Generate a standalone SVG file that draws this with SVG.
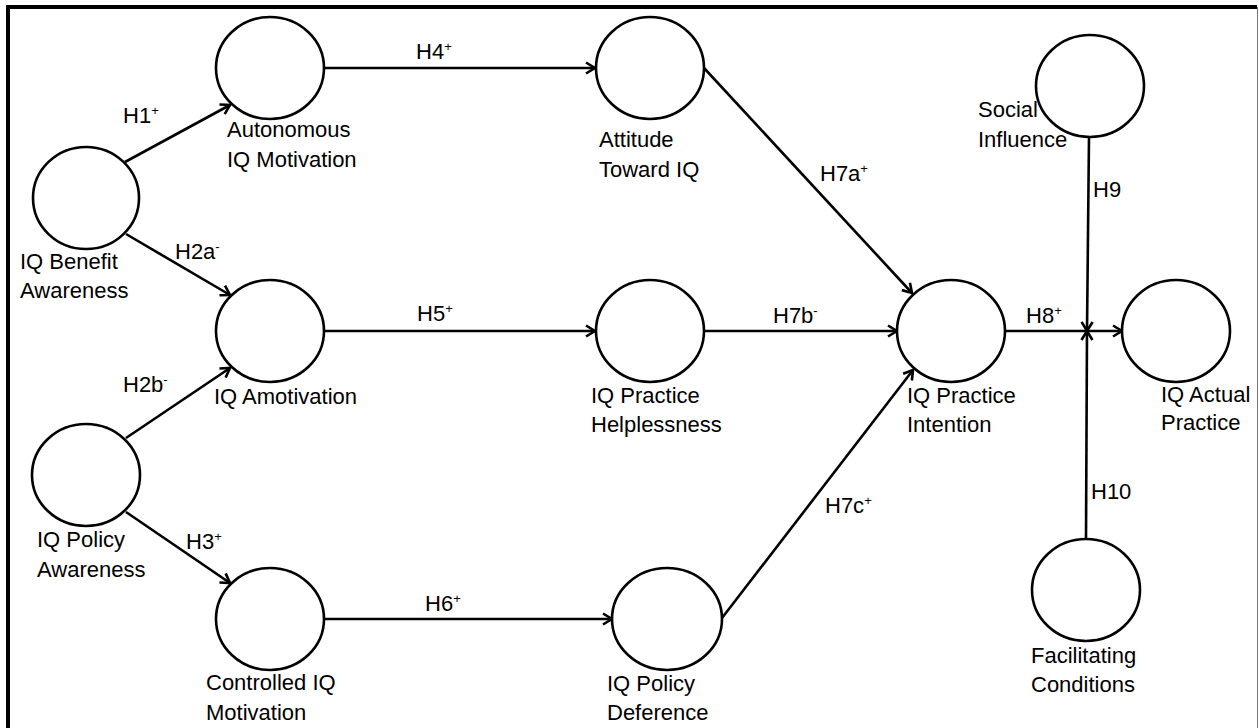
<svg xmlns="http://www.w3.org/2000/svg" width="1259" height="728" viewBox="0 0 1259 728">
<style>
.n{fill:#fff;stroke:#000;stroke-width:2.6}
.c{stroke:#000;stroke-width:2.6;fill:none}
.a{marker-end:url(#arr)}
text{font-family:"Liberation Sans",Arial,sans-serif;font-size:22px;fill:#000}
.s{font-size:13px}
</style>
<defs>
<marker id="arr" markerUnits="userSpaceOnUse" viewBox="-12 -7 14 14" refX="0" refY="0" markerWidth="14" markerHeight="14" orient="auto">
<path d="M-9,-5.5 L0,0 L-9,5.5" fill="none" stroke="#000" stroke-width="2.6"/>
</marker>
</defs>
<rect x="0" y="0" width="1259" height="728" fill="#fff"/>
<path d="M8,728 V7 H1257" fill="none" stroke="#000" stroke-width="4"/>
<path d="M1257.5,7 V728" fill="none" stroke="#777" stroke-width="1"/>
<g id="connectors">
<line class="c a" x1="125" y1="162" x2="230" y2="105"/>
<line class="c a" x1="126" y1="234" x2="230" y2="295"/>
<line class="c a" x1="126" y1="438" x2="230" y2="368"/>
<line class="c a" x1="126" y1="512" x2="230" y2="583"/>
<line class="c a" x1="324" y1="68" x2="595" y2="68"/>
<line class="c a" x1="324" y1="331" x2="595" y2="331"/>
<line class="c a" x1="324" y1="619" x2="612" y2="619"/>
<line class="c a" x1="704" y1="68" x2="912" y2="293"/>
<line class="c a" x1="704" y1="331" x2="897" y2="331"/>
<line class="c a" x1="722" y1="618" x2="913" y2="370"/>
<line class="c a" x1="1006" y1="331" x2="1122" y2="331"/>
<line class="c a" x1="1089" y1="137" x2="1087" y2="331"/>
<line class="c a" x1="1086" y1="539" x2="1087" y2="331"/>
<text x="123" y="123">H1<tspan class="s" dy="-8">+</tspan></text>
<text x="175" y="259">H2a<tspan class="s" dy="-8">-</tspan></text>
<text x="123" y="392">H2b<tspan class="s" dy="-8">-</tspan></text>
<text x="186" y="549">H3<tspan class="s" dy="-8">+</tspan></text>
<text x="416" y="59">H4<tspan class="s" dy="-8">+</tspan></text>
<text x="417" y="321">H5<tspan class="s" dy="-8">+</tspan></text>
<text x="425" y="611">H6<tspan class="s" dy="-8">+</tspan></text>
<text x="820" y="181">H7a<tspan class="s" dy="-8">+</tspan></text>
<text x="773" y="323">H7b<tspan class="s" dy="-8">-</tspan></text>
<text x="825" y="513">H7c<tspan class="s" dy="-8">+</tspan></text>
<text x="1026" y="323">H8<tspan class="s" dy="-8">+</tspan></text>
<text x="1093" y="197">H9</text>
<text x="1091" y="499">H10</text>
</g>
<g id="iq-benefit-awareness">
<ellipse class="n" cx="86" cy="198" rx="53" ry="51"/>
<text x="20" y="269">IQ Benefit</text>
<text x="20" y="298">Awareness</text>
</g>
<g id="iq-policy-awareness">
<ellipse class="n" cx="86" cy="475" rx="54" ry="51"/>
<text x="37" y="547">IQ Policy</text>
<text x="37" y="577">Awareness</text>
</g>
<g id="autonomous-iq-motivation">
<ellipse class="n" cx="270" cy="68" rx="54" ry="51"/>
<text x="227" y="137">Autonomous</text>
<text x="227" y="167">IQ Motivation</text>
</g>
<g id="iq-amotivation">
<ellipse class="n" cx="270" cy="331" rx="54" ry="51"/>
<text x="214" y="404">IQ Amotivation</text>
</g>
<g id="controlled-iq-motivation">
<ellipse class="n" cx="270" cy="619" rx="54" ry="51"/>
<text x="206" y="690">Controlled IQ</text>
<text x="206" y="720">Motivation</text>
</g>
<g id="attitude-toward-iq">
<ellipse class="n" cx="650" cy="68" rx="54" ry="51"/>
<text x="599" y="147">Attitude</text>
<text x="599" y="177">Toward IQ</text>
</g>
<g id="iq-practice-helplessness">
<ellipse class="n" cx="650" cy="331" rx="54" ry="51"/>
<text x="591" y="403">IQ Practice</text>
<text x="591" y="432">Helplessness</text>
</g>
<g id="iq-policy-deference">
<ellipse class="n" cx="667" cy="619" rx="55" ry="51"/>
<text x="607" y="691">IQ Policy</text>
<text x="607" y="720">Deference</text>
</g>
<g id="iq-practice-intention">
<ellipse class="n" cx="951" cy="331" rx="54" ry="51"/>
<text x="907" y="403">IQ Practice</text>
<text x="907" y="432">Intention</text>
</g>
<g id="iq-actual-practice">
<ellipse class="n" cx="1176" cy="331" rx="54" ry="51"/>
<text x="1161" y="402">IQ Actual</text>
<text x="1161" y="430">Practice</text>
</g>
<g id="social-influence">
<ellipse class="n" cx="1090" cy="86" rx="54" ry="51"/>
<text x="978" y="117">Social</text>
<text x="978" y="147">Influence</text>
</g>
<g id="facilitating-conditions">
<ellipse class="n" cx="1086" cy="590" rx="54" ry="51"/>
<text x="1031" y="663">Facilitating</text>
<text x="1031" y="692">Conditions</text>
</g>
</svg>
